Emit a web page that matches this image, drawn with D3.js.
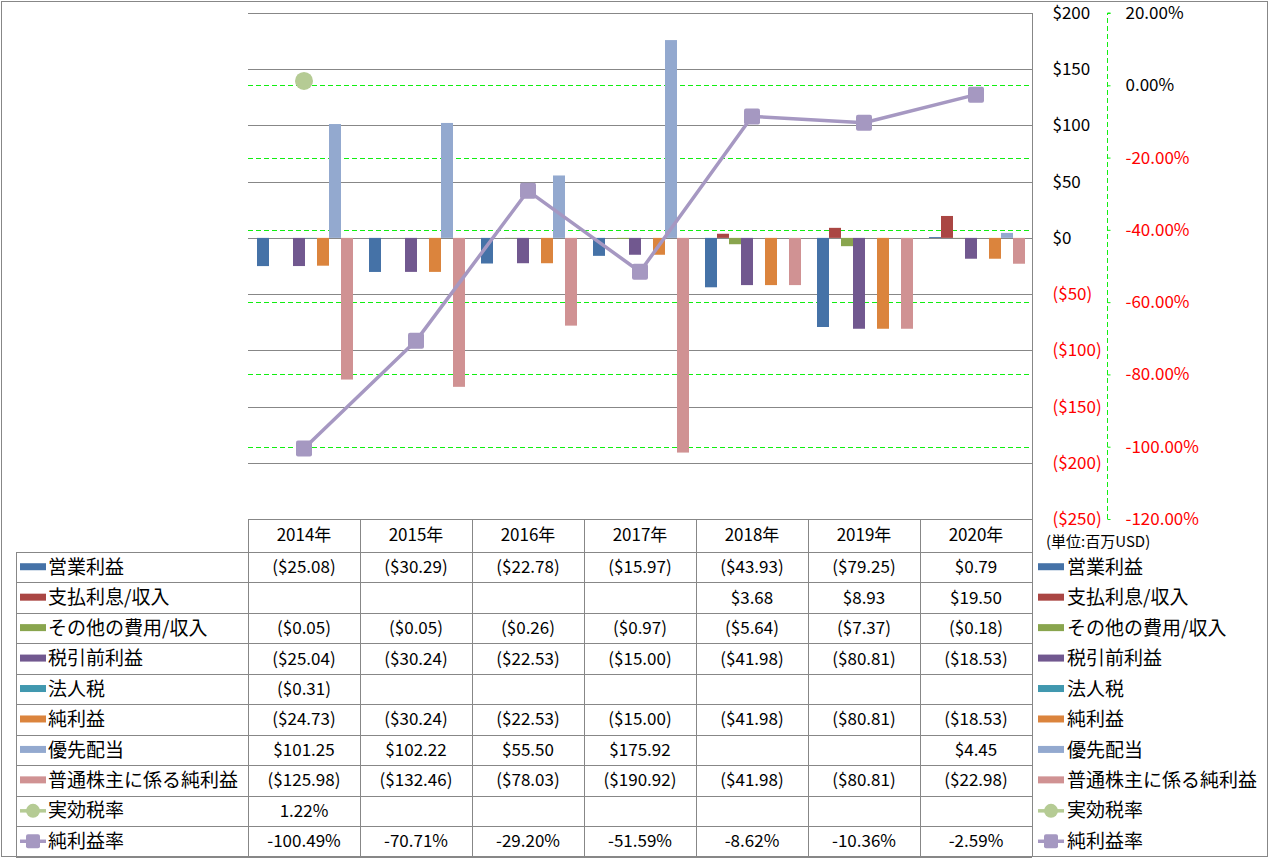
<!DOCTYPE html>
<html><head><meta charset="utf-8">
<script src="https://cdn.jsdelivr.net/npm/d3@7"></script>
<style>
body{margin:0;background:#fff;}
svg{display:block;font-family:"Noto Sans CJK JP","Noto Sans",sans-serif;}
</style></head><body>
<svg id="c" width="1269" height="858"></svg>
<script>
const years = ["2014年","2015年","2016年","2017年","2018年","2019年","2020年"];
const barSeriesNames = ["営業利益","支払利息/収入","その他の費用/収入","税引前利益","法人税","純利益","優先配当","普通株主に係る純利益"];
const barColors = ["#4572A7","#AA4643","#89A54E","#71588F","#4198AF","#DB843D","#93A9CF","#D09293"];
const opIncome   = [-25.08,-30.29,-22.78,-15.97,-43.93,-79.25,0.79];
const interest   = [null,null,null,null,3.68,8.93,19.50];
const otherExp   = [-0.05,-0.05,-0.26,-0.97,-5.64,-7.37,-0.18];
const pretax     = [-25.04,-30.24,-22.53,-15.00,-41.98,-80.81,-18.53];
const incomeTax  = [-0.31,null,null,null,null,null,null];
const netIncome  = [-24.73,-30.24,-22.53,-15.00,-41.98,-80.81,-18.53];
const prefDiv    = [101.25,102.22,55.50,175.92,null,null,4.45];
const netCommon  = [-125.98,-132.46,-78.03,-190.92,-41.98,-80.81,-22.98];
const lineSeriesNames = ["実効税率","純利益率"];
const lineColors = ["#B5CB94","#A698C2"];
const effTaxRate = [1.22,null,null,null,null,null,null];
const netMargin  = [-100.49,-70.71,-29.20,-51.59,-8.62,-10.36,-2.59];
const leftTicks  = [200,150,100,50,0,-50,-100,-150,-200,-250];
const rightTicks = [20,0,-20,-40,-60,-80,-100,-120];
const unitLabel = "(単位:百万USD)";

const barSeries = [opIncome,interest,otherExp,pretax,incomeTax,netIncome,prefDiv,netCommon];
const lineSeries = [effTaxRate, netMargin];

const svg = d3.select("#c");
const plotL = 248, plotR = 1032, plotT = 13, plotB = 519;
const yL = d3.scaleLinear().domain([-250,200]).range([plotB,plotT]);
const yR = d3.scaleLinear().domain([-120,20]).range([plotB,plotT]);
const x0 = d3.scaleBand().domain(years).range([plotL,plotR]).padding(0);
const x1 = d3.scaleBand().domain(d3.range(barSeries.length)).range([9,105]).padding(0);
const gridCol = "#878787", green = "#11ee11", red = "#ff0000";
const f2 = v => d3.format(".2f")(v).replace("\u2212","-");

// outer frame
svg.append("rect").attr("x",1.5).attr("y",1.5).attr("width",1266).attr("height",855)
  .attr("fill","none").attr("stroke",gridCol);

// primary gridlines
svg.append("g").selectAll("line").data(leftTicks).join("line")
  .attr("x1",plotL).attr("x2",plotR).attr("y1",d=>Math.round(yL(d))+0.5).attr("y2",d=>Math.round(yL(d))+0.5)
  .attr("stroke",gridCol).attr("stroke-width",1);
// secondary gridlines
svg.append("g").selectAll("line").data(rightTicks.filter(d=>d!==-120 && d!==20)).join("line")
  .attr("x1",plotL).attr("x2",plotR).attr("y1",d=>Math.round(yR(d))+0.5).attr("y2",d=>Math.round(yR(d))+0.5)
  .attr("stroke",green).attr("stroke-width",1).attr("stroke-dasharray","5,3");

// bars
const bars = svg.append("g");
barSeries.forEach((s,si)=>{
  bars.selectAll(null).data(s.map((v,i)=>({v,i})).filter(d=>d.v!==null)).join("rect")
    .attr("x",d=>x0(years[d.i])+x1(si))
    .attr("width",x1.bandwidth())
    .attr("y",d=>Math.min(yL(d.v),yL(0)))
    .attr("height",d=>Math.abs(yL(d.v)-yL(0)))
    .attr("fill",barColors[si]);
});

// lines
const cx = i => x0(years[i]) + x0.bandwidth()/2;
const lineGen = d3.line().defined(d=>d.v!==null).x(d=>cx(d.i)).y(d=>yR(d.v));
const nmData = netMargin.map((v,i)=>({v,i}));
svg.append("path").datum(nmData).attr("d",lineGen).attr("fill","none")
  .attr("stroke",lineColors[1]).attr("stroke-width",3.5).attr("stroke-linejoin","round");
svg.append("g").selectAll("rect").data(nmData.filter(d=>d.v!==null)).join("rect")
  .attr("x",d=>cx(d.i)-8).attr("y",d=>yR(d.v)-8).attr("width",16).attr("height",16)
  .attr("rx",2).attr("fill","#A598C1");
const etData = effTaxRate.map((v,i)=>({v,i})).filter(d=>d.v!==null);
svg.append("g").selectAll("circle").data(etData).join("circle")
  .attr("cx",d=>cx(d.i)).attr("cy",d=>yR(d.v)).attr("r",9).attr("fill",lineColors[0]);

// primary axis (right)
const fmtUSD = v => v<0 ? `($${-v})` : `$${v}`;
const axL = svg.append("g").attr("transform",`translate(${plotR+0.5},0)`)
  .call(d3.axisRight(yL).tickValues(leftTicks).tickFormat(fmtUSD).tickSize(0).tickPadding(20));
axL.select(".domain").remove();
axL.selectAll("text").attr("font-size",17).attr("font-family",'"Noto Sans CJK JP",sans-serif')
  .attr("fill",d=>d<0?red:"#000");
svg.append("line").attr("x1",plotR+0.5).attr("x2",plotR+0.5).attr("y1",plotT).attr("y2",856.5)
  .attr("stroke",gridCol);

// secondary axis
const axR = svg.append("g").attr("transform",`translate(1107.5,0)`)
  .call(d3.axisRight(yR).tickValues(rightTicks).tickFormat(v=>f2(v)+"%").tickSize(3).tickPadding(15));
axR.select(".domain").attr("stroke",green).attr("stroke-dasharray","5,3").attr("d",`M3,${plotT}H0V${plotB}H3`);
axR.selectAll(".tick line").attr("stroke",green);
axR.selectAll("text").attr("font-size",17).attr("font-family",'"Noto Sans CJK JP",sans-serif')
  .attr("fill",d=>d<0?red:"#000");

svg.append("text").attr("x",1046).attr("y",542).attr("dy","0.35em").attr("font-size",15)
  .attr("fill","#000").text(unitLabel);

// data table
const tblLeft = 16, hdrTop = 519, hdrBot = 552, rowH = 30.45;
const allNames = barSeriesNames.concat(lineSeriesNames);
const allData = barSeries.concat(lineSeries);
const nRows = allNames.length;
const tbl = svg.append("g");
tbl.selectAll(".hdr").data(years).join("text").attr("class","hdr")
  .attr("x",d=>x0(d)+x0.bandwidth()/2).attr("y",(hdrTop+hdrBot)/2).attr("dy","0.35em")
  .attr("text-anchor","middle").attr("font-size",17).text(d=>d);
for(let r=0;r<=nRows;r++){
  const y = Math.round(hdrBot + r*rowH)+0.5;
  tbl.append("line").attr("x1",tblLeft).attr("x2",plotR).attr("y1",y).attr("y2",y).attr("stroke",gridCol);
}
tbl.append("line").attr("x1",tblLeft+0.5).attr("x2",tblLeft+0.5).attr("y1",hdrBot).attr("y2",hdrBot+nRows*rowH).attr("stroke",gridCol);
years.forEach(y=>{
  const x = Math.round(x0(y))+0.5;
  tbl.append("line").attr("x1",x).attr("x2",x).attr("y1",hdrTop).attr("y2",hdrBot+nRows*rowH).attr("stroke",gridCol);
});
const fmtVal = (v,isPct) => {
  if(v===null) return "";
  if(isPct) return f2(v)+"%";
  return v<0 ? `($${f2(-v)})` : `$${f2(v)}`;
};
function drawKey(g, x, yc, idx){
  if(idx < barSeries.length){
    g.append("rect").attr("x",x).attr("y",yc-4).attr("width",26).attr("height",7).attr("fill",barColors[idx]);
  } else {
    const li = idx - barSeries.length;
    g.append("line").attr("x1",x).attr("x2",x+26).attr("y1",yc).attr("y2",yc)
      .attr("stroke",lineColors[li]).attr("stroke-width",3.5);
    if(li===0) g.append("circle").attr("cx",x+13).attr("cy",yc).attr("r",7).attr("fill",lineColors[0]);
    else g.append("rect").attr("x",x+6).attr("y",yc-7).attr("width",14).attr("height",14).attr("rx",2).attr("fill","#A598C1");
  }
}
allNames.forEach((name,r)=>{
  const yc = hdrBot + r*rowH + rowH/2;
  drawKey(tbl, 20, yc, r);
  tbl.append("text").attr("x",48).attr("y",yc).attr("dy","0.35em").attr("font-size",19).text(name);
  drawKey(tbl, 1038, yc, r);
  tbl.append("text").attr("x",1067).attr("y",yc).attr("dy","0.35em").attr("font-size",19).text(name);
  const isPct = r >= barSeries.length;
  allData[r].forEach((v,i)=>{
    tbl.append("text").attr("x",x0(years[i])+x0.bandwidth()/2).attr("y",yc).attr("dy","0.35em")
      .attr("text-anchor","middle").attr("font-size",17).text(fmtVal(v,isPct));
  });
});
</script>
</body></html>
